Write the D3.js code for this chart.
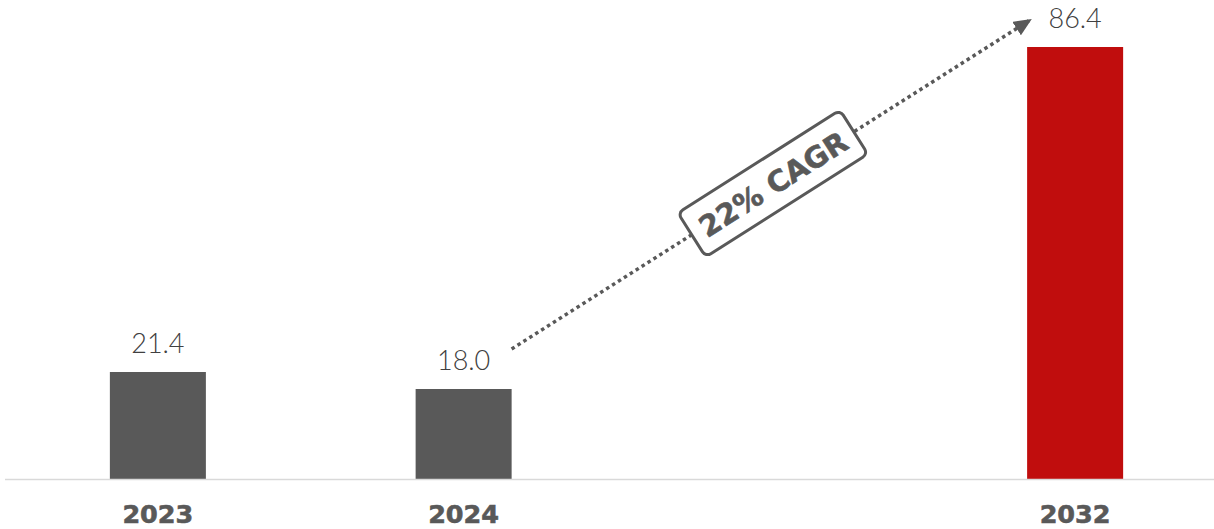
<!DOCTYPE html>
<html>
<head>
<meta charset="utf-8">
<script src="https://cdn.jsdelivr.net/npm/d3@7"></script>
<style>
  html, body { margin: 0; padding: 0; background: #fff; }
  svg { display: block; }
</style>
</head>
<body>
<svg id="chart" width="1214" height="529"></svg>
<script>
// chart data
const categories = ["2023", "2024", "", "2032"];   // empty slot keeps the gap before 2032
const values = [21.4, 18.0, null, 86.4];
const valueLabels = ["21.4", "18.0", "", "86.4"];
const barColors = ["#595959", "#595959", "#595959", "#C00D0D"];
const cagrText = "22% CAGR";
const cagrFrom = "2024", cagrTo = "2032";

const width = 1214, height = 529;
const baseY = 479;

const svg = d3.select("#chart");

const x = d3.scaleBand()
    .domain(categories)
    .range([5, 1228])
    .paddingInner(0.686)
    .paddingOuter(0.343);

const y = d3.scaleLinear()
    .domain([0, 95.8])
    .range([baseY, 0]);

const bw = x.bandwidth();

// bars
const data = categories.map((c, i) => ({ cat: c, v: values[i], label: valueLabels[i], color: barColors[i] }))
    .filter(d => d.v != null);

svg.append("g")
    .selectAll("rect")
    .data(data)
    .enter()
    .append("rect")
    .attr("x", d => x(d.cat))
    .attr("y", d => y(d.v))
    .attr("width", bw)
    .attr("height", d => y(0) - y(d.v))
    .style("fill", d => d.color);

// baseline
svg.append("line")
    .attr("x1", 5).attr("x2", width)
    .attr("y1", y(0) + 0.5).attr("y2", y(0) + 0.5)
    .attr("stroke", "#d9d9d9")
    .attr("stroke-width", 1.5);

// value labels
svg.append("g")
    .selectAll("text")
    .data(data)
    .enter()
    .append("text")
    .attr("x", d => x(d.cat) + bw / 2)
    .attr("y", d => y(d.v) - 19)
    .attr("text-anchor", "middle")
    .style("font-family", "Lato, 'DejaVu Sans', sans-serif")
    .style("font-weight", "300")
    .style("font-size", "27px")
    .style("fill", "#404040")
    .text(d => d.label);

// category labels
svg.append("g")
    .selectAll("text")
    .data(data)
    .enter()
    .append("text")
    .attr("x", d => x(d.cat) + bw / 2)
    .attr("y", 523)
    .attr("text-anchor", "middle")
    .style("font-family", "'DejaVu Sans', sans-serif")
    .style("font-weight", "bold")
    .style("font-size", "25.5px")
    .style("fill", "#595959")
    .style("stroke", "#595959")
    .style("stroke-width", 0.6)
    .text(d => d.cat);

// CAGR arrow
const i0 = categories.indexOf(cagrFrom), i1 = categories.indexOf(cagrTo);
const ax1 = x(cagrFrom) + bw, ay1 = y(values[i0]) - 40;
const ax2 = x(cagrTo) + 3, ay2 = y(values[i1]) - 27;

svg.append("defs").append("marker")
    .attr("id", "arrow")
    .attr("markerUnits", "userSpaceOnUse")
    .attr("viewBox", "0 0 18 16")
    .attr("refX", 16).attr("refY", 8)
    .attr("markerWidth", 18).attr("markerHeight", 16)
    .attr("orient", "auto")
    .append("path")
    .attr("d", "M0,0 L18,8 L0,16 Z")
    .attr("fill", "#595959");

svg.append("line")
    .attr("x1", ax1).attr("y1", ay1)
    .attr("x2", ax2).attr("y2", ay2)
    .attr("stroke", "#595959")
    .attr("stroke-width", 3.5)
    .attr("stroke-dasharray", "3.5 3.5")
    .attr("marker-end", "url(#arrow)");

const angle = Math.atan2(ay2 - ay1, ax2 - ax1) * 180 / Math.PI;
const label = svg.append("g")
    .attr("transform", `translate(${(ax1 + ax2) / 2 + 2}, ${(ay1 + ay2) / 2 - 1}) rotate(${angle})`);

label.append("rect")
    .attr("x", -96).attr("y", -26)
    .attr("width", 192).attr("height", 52)
    .attr("rx", 6)
    .attr("fill", "#fff")
    .attr("stroke", "#595959")
    .attr("stroke-width", 3);

label.append("text")
    .attr("x", 0).attr("y", 11)
    .attr("text-anchor", "middle")
    .style("font-family", "'DejaVu Sans', sans-serif")
    .style("font-weight", "bold")
    .style("font-size", "29px")
    .style("fill", "#595959")
    .style("stroke", "#595959")
    .style("stroke-width", 0.6)
    .text(cagrText);
</script>
</body>
</html>
